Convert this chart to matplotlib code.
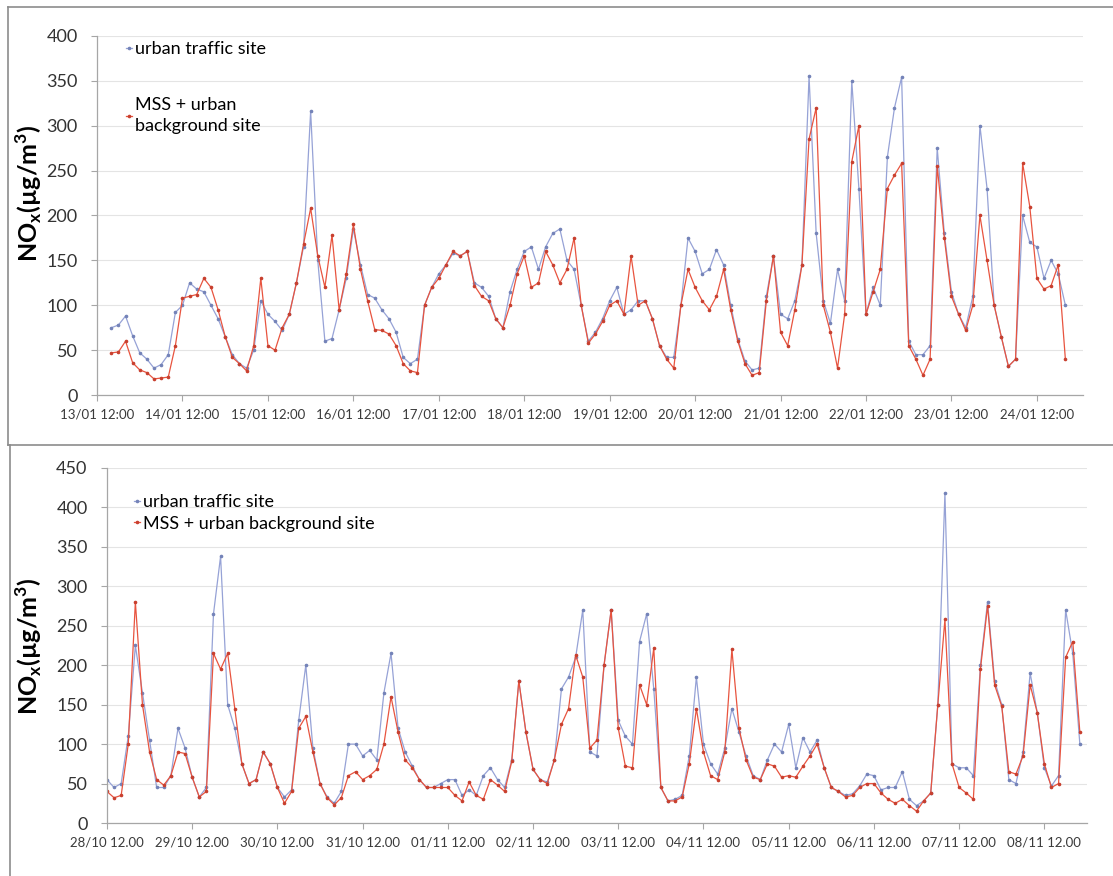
import numpy as np
import matplotlib.pyplot as plt
from matplotlib.lines import Line2D

plt.rcParams['font.family'] = ['Lato', 'DejaVu Sans']

# --- January campaign: hours after 13/01 12:00, every 2 h ---
jan_hours = np.arange(4, 274, 2)
jan_traffic = [75, 78, 88, 66, 47, 40, 30, 34, 45, 92, 100, 125, 118, 115, 100, 85, 65, 45, 35, 30,
               50, 105, 90, 82, 72, 90, 125, 165, 316, 150, 60, 63, 95, 130, 185, 145, 112, 108, 95, 85,
               70, 42, 35, 40, 100, 120, 135, 145, 158, 155, 160, 125, 120, 110, 85, 75, 115, 140, 160, 165,
               140, 165, 180, 185, 150, 140, 100, 60, 70, 85, 105, 120, 90, 95, 105, 105, 85, 55, 42, 42,
               100, 175, 160, 135, 140, 162, 145, 100, 62, 38, 28, 30, 110, 155, 90, 85, 105, 145, 355, 180,
               105, 80, 140, 105, 350, 230, 90, 120, 100, 265, 320, 354, 60, 45, 45, 55, 275, 180, 115, 90,
               75, 110, 300, 230, 100, 65, 32, 40, 200, 170, 165, 130, 150, 135, 100]
jan_mss = [47, 48, 60, 36, 28, 25, 18, 19, 20, 55, 108, 110, 112, 130, 120, 95, 65, 42, 35, 27,
           55, 130, 55, 50, 75, 90, 125, 168, 208, 155, 120, 178, 95, 135, 190, 140, 105, 73, 72, 68,
           55, 35, 27, 25, 100, 120, 130, 145, 160, 155, 160, 122, 110, 105, 85, 75, 100, 135, 155, 120,
           125, 160, 145, 125, 140, 175, 100, 58, 68, 82, 100, 105, 90, 155, 100, 105, 85, 55, 40, 30,
           100, 140, 120, 105, 95, 110, 140, 95, 60, 35, 22, 25, 105, 155, 70, 55, 95, 145, 285, 320,
           100, 70, 30, 90, 260, 300, 90, 115, 140, 230, 245, 258, 55, 40, 22, 40, 255, 175, 110, 90,
           72, 100, 200, 150, 100, 65, 32, 40, 258, 210, 130, 118, 122, 145, 40]
jan_ticks = ['13/01 12:00', '14/01 12:00', '15/01 12:00', '16/01 12:00', '17/01 12:00', '18/01 12:00',
             '19/01 12:00', '20/01 12:00', '21/01 12:00', '22/01 12:00', '23/01 12:00', '24/01 12:00']

# --- Oct/Nov campaign: hours after 28/10 12:00, every 2 h ---
nov_hours = np.arange(0, 276, 2)
nov_traffic = [55, 45, 50, 110, 225, 165, 105, 45, 45, 60, 120, 95, 58, 33, 45, 265, 338, 150, 120, 75,
               50, 55, 90, 75, 45, 33, 42, 130, 200, 95, 50, 33, 25, 40, 100, 100, 85, 92, 80, 165,
               215, 120, 90, 72, 55, 45, 45, 50, 55, 55, 35, 42, 35, 60, 70, 55, 45, 80, 180, 115,
               68, 55, 52, 80, 170, 185, 210, 270, 90, 85, 200, 270, 130, 110, 100, 230, 265, 170, 45, 28,
               30, 35, 85, 185, 100, 75, 62, 95, 145, 115, 85, 60, 55, 80, 100, 90, 125, 70, 108, 90,
               105, 70, 45, 40, 35, 37, 47, 62, 60, 42, 45, 45, 65, 30, 22, 28, 38, 150, 418, 75,
               70, 70, 60, 200, 280, 180, 150, 55, 50, 90, 190, 140, 70, 47, 60, 270, 215, 100]
nov_mss = [40, 32, 35, 100, 280, 150, 90, 55, 48, 60, 90, 88, 58, 33, 40, 215, 195, 215, 145, 75,
           50, 55, 90, 75, 45, 25, 40, 120, 135, 90, 50, 32, 23, 32, 60, 65, 55, 60, 68, 100,
           160, 115, 80, 70, 55, 45, 45, 45, 45, 35, 28, 52, 35, 30, 55, 48, 40, 78, 180, 115,
           68, 55, 50, 80, 125, 145, 213, 185, 95, 105, 200, 270, 120, 72, 70, 175, 150, 222, 45, 28,
           28, 33, 75, 145, 90, 60, 55, 90, 220, 120, 80, 58, 55, 75, 72, 58, 60, 58, 72, 85,
           100, 70, 45, 40, 33, 35, 45, 50, 50, 38, 30, 25, 30, 22, 15, 28, 38, 150, 258, 75,
           45, 38, 30, 195, 275, 175, 148, 65, 62, 85, 175, 140, 75, 45, 50, 210, 230, 115]
nov_ticks = ['28/10 12.00', '29/10 12.00', '30/10 12.00', '31/10 12.00', '01/11 12.00', '02/11 12.00',
             '03/11 12.00', '04/11 12.00', '05/11 12.00', '06/11 12.00', '07/11 12.00', '08/11 12.00']

blue = '#96A2D6'
blue_mk = '#7483B8'
red = '#E8543F'
red_mk = '#C8402F'
axis_grey = '#A6A6A6'


def draw_panel(ax, hours, traffic, mss, ticks, ymax, xmax):
    ax.plot(hours, traffic, color=blue, lw=0.9, marker='o', ms=1.6,
            mfc=blue_mk, mec=blue_mk, label='urban traffic site')
    ax.plot(hours, mss, color=red, lw=0.9, marker='o', ms=1.6,
            mfc=red_mk, mec=red_mk, label='MSS + urban background site')
    ax.set_xlim(0, xmax)
    ax.set_ylim(0, ymax)
    ax.set_yticks(np.arange(0, ymax + 1, 50))
    ax.set_xticks(np.arange(len(ticks)) * 24)
    ax.set_xticklabels(ticks, fontsize=9.5, color='#3A3A3A')
    ax.tick_params(axis='y', labelsize=13, labelcolor='#333333', length=4, color=axis_grey, pad=10)
    ax.tick_params(axis='x', length=4, color=axis_grey, pad=6)
    ax.grid(axis='y', color='#E4E4E4', lw=0.8)
    ax.set_axisbelow(True)
    for s in ['top', 'right']:
        ax.spines[s].set_visible(False)
    for s in ['left', 'bottom']:
        ax.spines[s].set_color(axis_grey)
        ax.spines[s].set_linewidth(0.9)


fig = plt.figure(figsize=(11.13, 8.76), dpi=100)

ax1 = fig.add_axes([0.0872, 0.549, 0.886, 0.41])
draw_panel(ax1, jan_hours, jan_traffic, jan_mss, jan_ticks, 400, 277)
h1, l1 = ax1.get_legend_handles_labels()
leg1 = ax1.legend(h1, ['urban traffic site', 'MSS + urban\nbackground site'], loc='upper left',
                  bbox_to_anchor=(0.105, 0.963), bbox_transform=fig.transFigure, frameon=False,
                  fontsize=13, handlelength=0.35, handletextpad=0.15, labelspacing=2.2, borderpad=0)
for t in leg1.get_texts():
    t.set_linespacing(1.35)

ax2 = fig.add_axes([0.0961, 0.0605, 0.8805, 0.4053])
draw_panel(ax2, nov_hours, nov_traffic, nov_mss, nov_ticks, 450, 276)
h2, l2 = ax2.get_legend_handles_labels()
ax2.legend(h2, l2, loc='upper left',
           bbox_to_anchor=(0.112, 0.446), bbox_transform=fig.transFigure, frameon=False,
           fontsize=13, handlelength=0.35, handletextpad=0.15, labelspacing=0.3, borderpad=0)

ylab = r'NO$_\mathregular{x}$(µg/m$^\mathregular{3}$)'
fig.text(0.026, 1 - 193 / 876, ylab, rotation=90, ha='center', va='center',
         fontsize=18, fontweight='bold')
fig.text(0.026, 1 - 646 / 876, ylab, rotation=90, ha='center', va='center',
         fontsize=18, fontweight='bold')

# chart frames
frame = dict(color='#8C8C8C', lw=1.2, transform=fig.transFigure)
fig.add_artist(Line2D([0.0072, 1.0], [0.992, 0.992], **frame))
fig.add_artist(Line2D([0.0072, 0.0072], [0.992, 0.492], **frame))
fig.add_artist(Line2D([0.0072, 1.0], [0.492, 0.492], **frame))
fig.add_artist(Line2D([0.009, 0.009], [0.492, 0.0], **frame))

fig.savefig('out.png', dpi=100)
